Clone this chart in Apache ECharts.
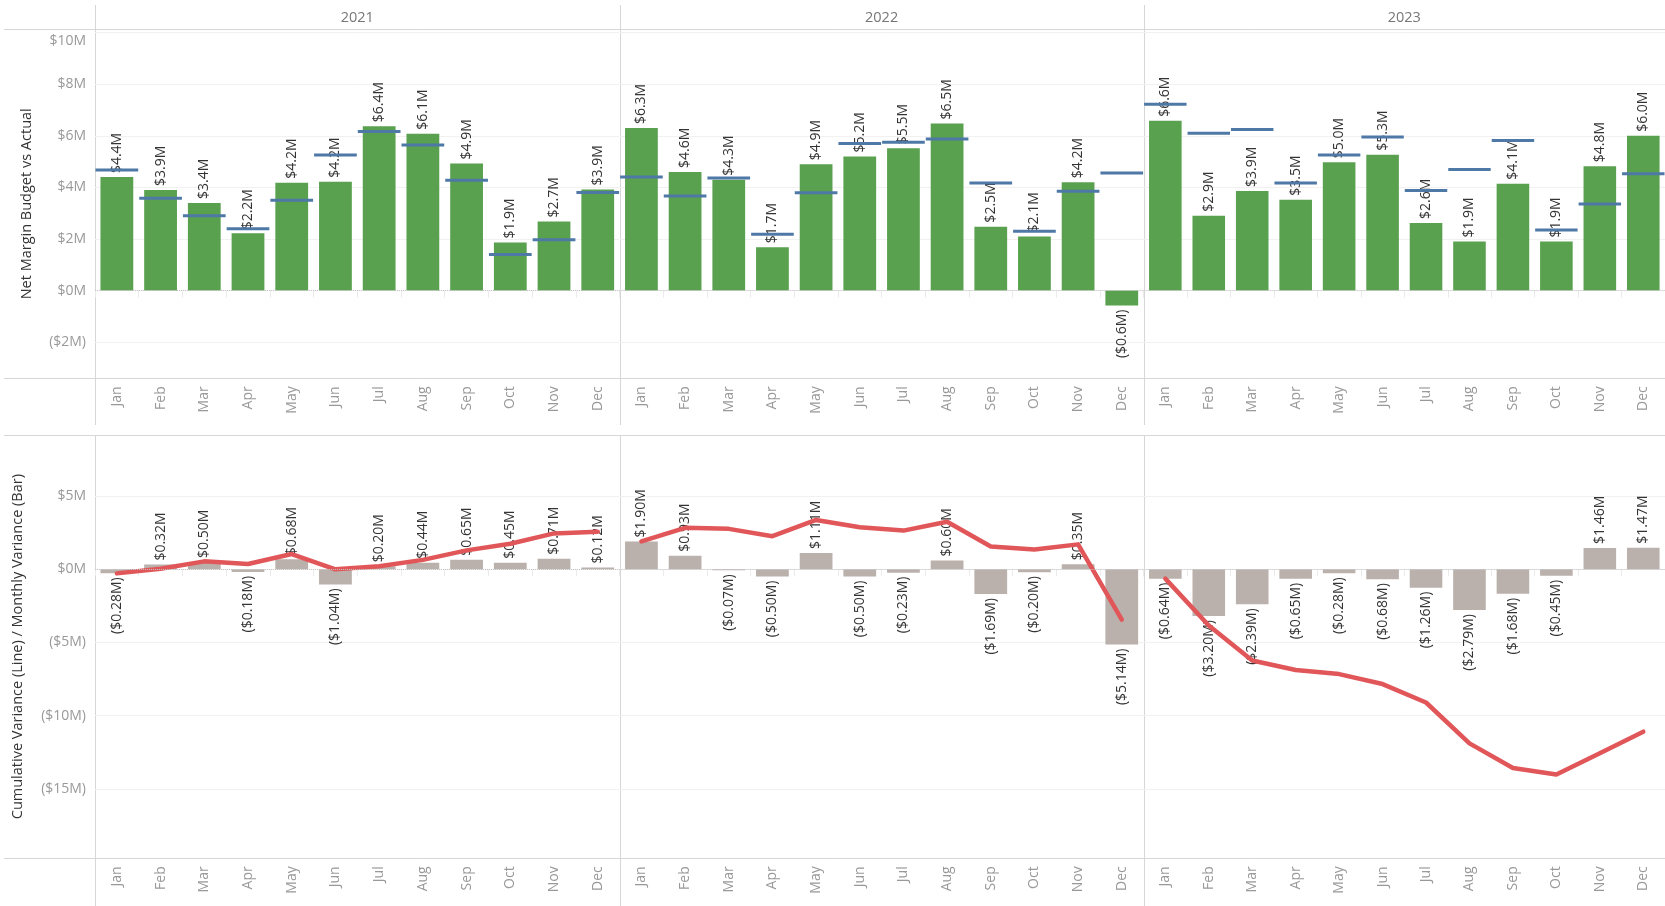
<!DOCTYPE html>
<html>
<head>
<meta charset="utf-8">
<title>Net Margin Budget vs Actual</title>
<script src="https://cdn.jsdelivr.net/npm/echarts@6/dist/echarts.min.js"></script>
<style>
  html, body { margin: 0; padding: 0; background: #ffffff; }
  #chart { width: 1665px; height: 906px; }
</style>
</head>
<body>
<div id="chart"></div>
<script>
// ---- data ($M) ----
const months = ['Jan', 'Feb', 'Mar', 'Apr', 'May', 'Jun', 'Jul', 'Aug', 'Sep', 'Oct', 'Nov', 'Dec'];
const years = ['2021', '2022', '2023'];

const actual2021 = [4.40, 3.90, 3.40, 2.22, 4.18, 4.22, 6.37, 6.08, 4.93, 1.86, 2.68, 3.92];
const actual2022 = [6.30, 4.60, 4.30, 1.68, 4.90, 5.20, 5.52, 6.48, 2.48, 2.10, 4.20, -0.58];
const actual2023 = [6.58, 2.90, 3.86, 3.52, 4.98, 5.27, 2.62, 1.90, 4.14, 1.90, 4.82, 6.00];

const budget2021 = [4.68, 3.58, 2.90, 2.40, 3.50, 5.26, 6.17, 5.64, 4.28, 1.40, 1.97, 3.80];
const budget2022 = [4.40, 3.67, 4.37, 2.18, 3.79, 5.70, 5.75, 5.88, 4.17, 2.30, 3.85, 4.56];
const budget2023 = [7.22, 6.10, 6.25, 4.17, 5.26, 5.95, 3.88, 4.69, 5.82, 2.35, 3.36, 4.53];

const variance2021 = [-0.28, 0.32, 0.50, -0.18, 0.68, -1.04, 0.20, 0.44, 0.65, 0.45, 0.71, 0.12];
const variance2022 = [1.90, 0.93, -0.07, -0.50, 1.11, -0.50, -0.23, 0.60, -1.69, -0.20, 0.35, -5.14];
const variance2023 = [-0.64, -3.20, -2.39, -0.65, -0.28, -0.68, -1.26, -2.79, -1.68, -0.45, 1.46, 1.47];

const cumulative2021 = [-0.28, 0.04, 0.54, 0.36, 1.04, 0.00, 0.20, 0.64, 1.29, 1.74, 2.45, 2.57];
const cumulative2022 = [1.90, 2.83, 2.76, 2.26, 3.37, 2.87, 2.64, 3.24, 1.55, 1.35, 1.70, -3.44];
const cumulative2023 = [-0.64, -3.84, -6.23, -6.88, -7.16, -7.84, -9.10, -11.89, -13.57, -14.02, -12.56, -11.09];

const marginTicks = [-2, 0, 2, 4, 6, 8, 10];
const varianceTicks = [-15, -10, -5, 0, 5];

const topTitle = 'Net Margin Budget vs Actual';
const bottomTitle = 'Cumulative Variance (Line) / Monthly Variance (Bar)';

// ---- layout & style ----
const actualByYear = [actual2021, actual2022, actual2023];
const budgetByYear = [budget2021, budget2022, budget2023];
const varianceByYear = [variance2021, variance2022, variance2023];
const cumulativeByYear = [cumulative2021, cumulative2022, cumulative2023];

const FONT = '"Open Sans", "Noto Sans", sans-serif';
const colLeft = [95, 619.6, 1143.6];
const colWidth = [524.6, 524, 521.4];
const topPane = { top: 29.3, height: 349, min: -3.4, max: 10.13 };
const bottomPane = { top: 435, height: 423.3, min: -19.74, max: 9.17 };

const GREEN = '#59a14f';
const BLUE = '#4e79a7';
const GREY_BAR = '#bab0ac';
const RED = '#e15759';
const RULE = '#d6d6d6';
const TICK_TEXT = '#999999';

const money = (v, digits) => v < 0
  ? '($' + Math.abs(v).toFixed(digits) + 'M)'
  : '$' + v.toFixed(digits) + 'M';
const axisMoney = v => v < 0 ? '($' + (-v) + 'M)' : '$' + v + 'M';

const grids = [];
const xAxes = [];
const yAxes = [];
const series = [];

// a tick label sitting on the pane's top edge is nudged down inside the pane
function paneAxisLabel(pane) {
  return v => {
    const text = axisMoney(v);
    return pane.max - v < 0.5 ? '{edge|' + text + '}' : text;
  };
}

function addPane(gridIdx, col, pane, ticks, title, nameGap) {
  grids.push({ left: colLeft[col], width: colWidth[col], top: pane.top, height: pane.height, show: false });
  xAxes.push({
    type: 'category', gridIndex: gridIdx, data: months,
    axisLine: { show: false },
    axisTick: { show: true, length: 7, lineStyle: { color: '#ebebeb' } },
    axisLabel: { rotate: 90, margin: 8, color: TICK_TEXT, fontSize: 14, fontFamily: FONT },
    splitLine: { show: false }
  });
  yAxes.push({
    type: 'value', gridIndex: gridIdx, min: pane.min, max: pane.max,
    axisLine: { show: false },
    axisTick: { show: false, customValues: ticks },
    axisLabel: {
      show: col === 0, customValues: ticks, formatter: paneAxisLabel(pane), margin: 9,
      color: TICK_TEXT, fontSize: 14, fontFamily: FONT,
      rich: { edge: { padding: [16, 0, 0, 0], color: TICK_TEXT, fontSize: 14, fontFamily: FONT } }
    },
    splitLine: { show: true, lineStyle: { color: '#f1f1f1', width: 1 } },
    name: col === 0 ? title : '',
    nameLocation: 'middle', nameGap: nameGap,
    nameTextStyle: { color: '#333333', fontSize: 14.5, fontFamily: FONT }
  });
}

const zeroLine = {
  silent: true, symbol: 'none', animation: false,
  label: { show: false },
  lineStyle: { type: 'dotted', color: '#c4c4c4', width: 1 },
  data: [{ yAxis: 0 }]
};

function barLabel(digits) {
  return {
    show: true, position: 'top', rotate: 90, align: 'left', verticalAlign: 'middle',
    distance: 4, color: '#333333', fontSize: 14, fontFamily: FONT,
    formatter: p => money(p.value, digits)
  };
}
const belowLabel = { position: 'bottom', align: 'right', distance: 4 };
const withLabelSide = arr => arr.map(v => v < 0 ? { value: v, label: belowLabel } : v);

for (let c = 0; c < 3; c++) {
  // upper row: actual net margin bars with budget ticks
  addPane(c, c, topPane, marginTicks, topTitle, 61);
  series.push({
    name: 'Actual ' + years[c], type: 'bar', xAxisIndex: c, yAxisIndex: c,
    data: withLabelSide(actualByYear[c]),
    barCategoryGap: '25%',
    itemStyle: { color: GREEN },
    label: barLabel(1),
    markLine: zeroLine,
    z: 2
  });
  series.push({
    name: 'Budget ' + years[c], type: 'custom', xAxisIndex: c, yAxisIndex: c,
    data: budgetByYear[c].map((v, k) => [k, v]),
    encode: { x: 0, y: 1 },
    renderItem: (params, api) => {
      const pt = api.coord([api.value(0), api.value(1)]);
      const band = api.size([1, 0])[0];
      return {
        type: 'rect',
        shape: { x: pt[0] - band / 2 + 0.5, y: pt[1] - 1.5, width: band - 1, height: 3 },
        style: { fill: BLUE }
      };
    },
    z: 3
  });
}

for (let c = 0; c < 3; c++) {
  // lower row: monthly variance bars with cumulative variance line
  const g = 3 + c;
  addPane(g, c, bottomPane, varianceTicks, bottomTitle, 70);
  series.push({
    name: 'Monthly Variance ' + years[c], type: 'bar', xAxisIndex: g, yAxisIndex: g,
    data: withLabelSide(varianceByYear[c]),
    barCategoryGap: '25%',
    itemStyle: { color: GREY_BAR },
    label: barLabel(2),
    markLine: zeroLine,
    z: 2
  });
  series.push({
    name: 'Cumulative Variance ' + years[c], type: 'line', xAxisIndex: g, yAxisIndex: g,
    data: cumulativeByYear[c],
    symbol: 'none',
    lineStyle: { color: RED, width: 4.5, cap: 'round', join: 'round' },
    z: 4
  });
}

// pane rules and year headers
const graphics = [];
const hLine = y => ({ type: 'line', silent: true, shape: { x1: 4, y1: y, x2: 1665, y2: y },
                      style: { stroke: RULE, lineWidth: 1 } });
const vLine = (x, y1, y2) => ({ type: 'line', silent: true, shape: { x1: x, y1: y1, x2: x, y2: y2 },
                                style: { stroke: RULE, lineWidth: 1 } });
[29.5, 378.5, 435.5, 858.5].forEach(y => graphics.push(hLine(y)));
colLeft.forEach(x => {
  const xs = Math.round(x) + 0.5;
  graphics.push(vLine(xs, 5, 425));
  graphics.push(vLine(xs, 435, 906));
});
years.forEach((y, i) => {
  graphics.push({
    type: 'text', silent: true,
    x: colLeft[i] + colWidth[i] / 2, y: 18,
    style: { text: y, align: 'center', verticalAlign: 'middle', fill: '#777777',
             fontSize: 14.5, fontFamily: FONT }
  });
});

const chart = echarts.init(document.getElementById('chart'), null, { renderer: 'canvas' });
chart.setOption({
  backgroundColor: '#ffffff',
  animation: false,
  textStyle: { fontFamily: FONT },
  grid: grids,
  xAxis: xAxes,
  yAxis: yAxes,
  series: series,
  graphic: graphics
});
</script>
</body>
</html>
